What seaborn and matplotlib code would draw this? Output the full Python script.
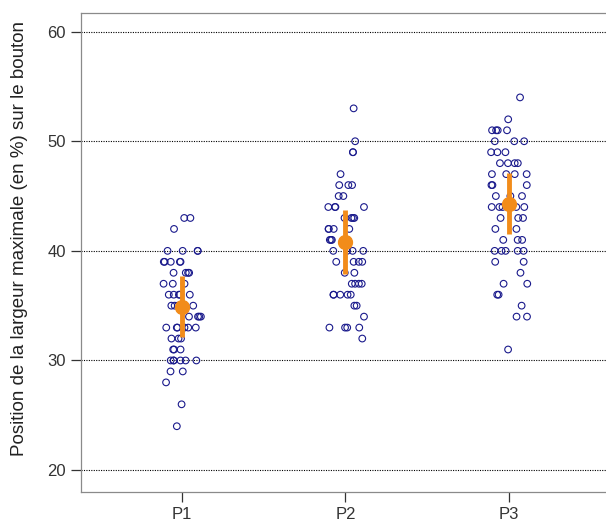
import numpy as np
import pandas as pd
import matplotlib
matplotlib.use("Agg")
import matplotlib.pyplot as plt
import seaborn as sns

categories = ["P1", "P2", "P3"]

# value -> count
p1_values = [43, 42, 40, 39, 38, 37, 36, 35, 34, 33, 32, 31, 30, 29, 28, 26, 24]
p1_counts = [2, 1, 4, 5, 4, 3, 5, 5, 4, 6, 3, 3, 6, 2, 1, 1, 1]
p2_values = [53, 50, 49, 47, 46, 45, 44, 43, 42, 41, 40, 39, 38, 37, 36, 35, 34, 33, 32]
p2_counts = [1, 1, 2, 1, 3, 2, 4, 4, 4, 4, 4, 4, 2, 4, 5, 2, 1, 4, 1]
p3_values = [54, 52, 51, 50, 49, 48, 47, 46, 45, 44, 43, 42, 41, 40, 39, 38, 37, 36, 35, 34, 31]
p3_counts = [1, 1, 4, 3, 3, 4, 4, 3, 3, 5, 3, 2, 3, 5, 2, 1, 2, 2, 1, 2, 1]

means = [34.9, 40.8, 44.3]
err_half = [2.8, 2.9, 2.8]

y_ticks = [20, 30, 40, 50, 60]
y_label = "Position de la largeur maximale (en %) sur le bouton"

rows = []
for cat, vals, cnts in zip(categories,
                           [p1_values, p2_values, p3_values],
                           [p1_counts, p2_counts, p3_counts]):
    for v, c in zip(vals, cnts):
        rows += [(cat, v)] * c
df = pd.DataFrame(rows, columns=["groupe", "valeur"])

sns.set_style("white")
plt.rcParams["font.family"] = ["Liberation Sans", "DejaVu Sans"]

fig = plt.figure(figsize=(6.06, 5.22), dpi=100)
ax = fig.add_axes([81 / 606, 30 / 522, 529 / 606, 479 / 522])

np.random.seed(3)
for y in y_ticks:
    ax.axhline(y, color="black", linestyle=(0, (1, 1.2)), linewidth=0.8, zorder=0)

sns.stripplot(data=df, x="groupe", y="valeur", order=categories, jitter=0.12,
              marker="o", color="#1a1a8c",
              linewidth=0.8, size=4.8, ax=ax, zorder=2)
for coll in ax.collections:
    coll.set_facecolor("none")
    coll.set_edgecolor("#1a1a8c")
    coll.set_linewidth(0.8)

ax.errorbar(np.arange(len(categories)), means, yerr=err_half, fmt="o",
            color="#f28c1a", ecolor="#f28c1a", elinewidth=3.5, capsize=0,
            markersize=10, zorder=3)

ax.set_xlim(-0.62, 2.62)
ax.set_ylim(18.0, 61.7)
ax.set_yticks(y_ticks)
ax.set_xlabel("")
ax.set_ylabel(y_label, fontsize=13.5, color="#222222")
ax.yaxis.set_label_coords(-0.101, 0.53)
ax.tick_params(axis="both", which="both", direction="out", length=7, width=0.9,
               color="#333333", labelsize=12, labelcolor="#333333", pad=4,
               left=True, bottom=True)
for s in ["left", "bottom", "top", "right"]:
    ax.spines[s].set_color("#8a8a8a")
    ax.spines[s].set_linewidth(0.9)
ax.grid(False)

fig.savefig("out.png", dpi=100)
